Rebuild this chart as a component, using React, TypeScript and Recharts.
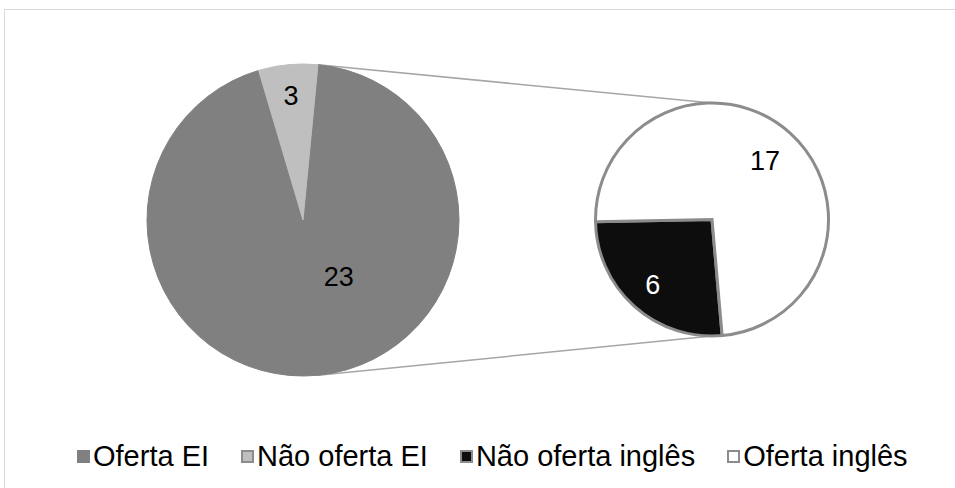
import { PieChart, Pie, Cell, Legend, Customized } from "recharts";

// secondary pie: the schools that offer EI, split by English offer
const secondNames = ["Não oferta inglês", "Oferta inglês"];
const secondValues = [6, 17];

// main pie: the aggregated "Outros" slice is what the secondary pie expands
const mainNames = ["Outros", "Oferta EI", "Não oferta EI"];
const mainValues = [secondValues.reduce((a, b) => a + b, 0), 23, 3];

const legendNames = ["Oferta EI", "Não oferta EI", "Não oferta inglês", "Oferta inglês"];

const mainData = mainNames.map((name, i) => ({ name, value: mainValues[i] }));
const secondData = secondNames.map((name, i) => ({ name, value: secondValues[i] }));

const W = 955;
const H = 488;

const MAIN = { cx: 303, cy: 220, r: 156 };
const SECOND = { cx: 712, cy: 219.5, r: 116.5 };

const mainTotal = mainValues.reduce((a, b) => a + b, 0);
// the "Outros" slice faces the secondary pie (centered on 3 o'clock)
const MAIN_START = (mainValues[0] / mainTotal) * 180;
const SECOND_START = -85;

const mainFills = ["#808080", "#808080", "#bfbfbf"];
const secondFills = ["#0d0d0d", "#ffffff"];
const legendFills = ["#808080", "#bfbfbf", "#0d0d0d", "#ffffff"];
const legendStrokes = ["#808080", "#8c8c8c", "#8c8c8c", "#8c8c8c"];

const RAD = Math.PI / 180;
const polar = (cx: number, cy: number, r: number, angle: number) => ({
  x: cx + r * Math.cos(angle * RAD),
  y: cy - r * Math.sin(angle * RAD),
});

const FONT = "'Liberation Sans', Arial, sans-serif";

function mainLabel(props: any) {
  const { cx, cy, midAngle, outerRadius, index, value } = props;
  // Oferta EI carries no label; Outros label sits low in the slice
  if (index === 1) return null;
  const angle = index === 0 ? midAngle - 57.7 : midAngle;
  const frac = index === 0 ? 0.43 : 0.8;
  const p = polar(cx, cy, outerRadius * frac, angle);
  return (
    <text x={p.x} y={p.y} textAnchor="middle" dominantBaseline="central" fontSize={27} fontFamily={FONT} fill="#000">
      {value}
    </text>
  );
}

function secondLabel(props: any) {
  const { cx, cy, midAngle, outerRadius, index, value } = props;
  const p = polar(cx, cy, outerRadius * (index === 0 ? 0.76 : 0.68), midAngle);
  return (
    <text x={p.x} y={p.y} textAnchor="middle" dominantBaseline="central" fontSize={27} fontFamily={FONT} fill={index === 0 ? "#fff" : "#000"}>
      {value}
    </text>
  );
}

function Connectors() {
  const otherEnd = MAIN_START - (mainValues[0] / mainTotal) * 360;
  const a = polar(MAIN.cx, MAIN.cy, MAIN.r, MAIN_START);
  const b = polar(MAIN.cx, MAIN.cy, MAIN.r, otherEnd);
  return (
    <g stroke="#a6a6a6" strokeWidth={1.5}>
      <line x1={a.x} y1={a.y} x2={SECOND.cx} y2={SECOND.cy - SECOND.r} />
      <line x1={b.x} y1={b.y} x2={SECOND.cx} y2={SECOND.cy + SECOND.r} />
    </g>
  );
}

function PieLegend() {
  return (
    <div style={{ display: "flex", alignItems: "center", fontFamily: FONT, fontSize: 29, color: "#000", whiteSpace: "nowrap" }}>
      {legendNames.map((name, i) => (
        <div key={name} style={{ display: "flex", alignItems: "center", marginRight: 32 }}>
          <span
            style={{
              display: "inline-block",
              width: 9,
              height: 9,
              background: legendFills[i],
              border: `2px solid ${legendStrokes[i]}`,
              marginRight: 3,
            }}
          />
          <span>{name}</span>
        </div>
      ))}
    </div>
  );
}

export default function App() {
  return (
    <div style={{ position: "fixed", left: 0, top: 0, width: W, height: H, background: "#fff", overflow: "hidden" }}>
      <div
        style={{
          position: "absolute",
          left: 4,
          top: 9,
          width: W + 20,
          height: H + 20,
          border: "1.5px solid #d9d9d9",
        }}
      />
      <PieChart
        width={W}
        height={H}
        margin={{ top: 0, right: 0, bottom: 0, left: 0 }}
        style={{ position: "absolute", left: 0, top: 0 }}
      >
        <Customized component={Connectors} />
        <Pie
          data={mainData}
          dataKey="value"
          nameKey="name"
          cx={MAIN.cx}
          cy={MAIN.cy}
          outerRadius={MAIN.r}
          startAngle={MAIN_START}
          endAngle={MAIN_START - 360}
          label={mainLabel}
          labelLine={false}
          isAnimationActive={false}
        >
          {mainData.map((d, i) => (
            <Cell key={d.name} fill={mainFills[i]} stroke={mainFills[i]} strokeWidth={1} />
          ))}
        </Pie>
        <Pie
          data={secondData}
          dataKey="value"
          nameKey="name"
          cx={SECOND.cx}
          cy={SECOND.cy}
          outerRadius={SECOND.r}
          startAngle={SECOND_START}
          endAngle={SECOND_START - 360}
          label={secondLabel}
          labelLine={false}
          isAnimationActive={false}
        >
          {secondData.map((d, i) => (
            <Cell key={d.name} fill={secondFills[i]} stroke="#8c8c8c" strokeWidth={3} />
          ))}
        </Pie>
        <Legend
          content={() => <PieLegend />}
          wrapperStyle={{ position: "absolute", left: 77, top: 440, width: "auto" }}
        />
      </PieChart>
    </div>
  );
}
